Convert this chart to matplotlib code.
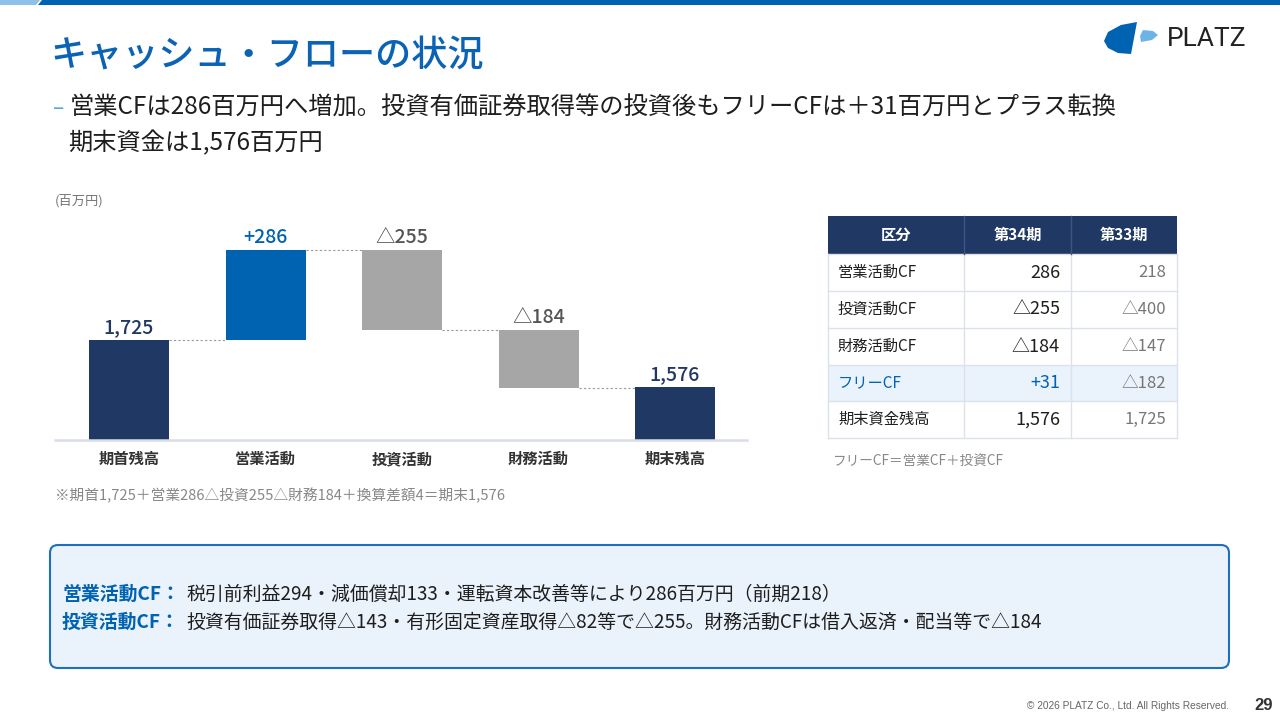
import numpy as np
import matplotlib
matplotlib.use('Agg')
import matplotlib.pyplot as plt
from matplotlib.patches import Rectangle, FancyBboxPatch, Polygon

plt.rcParams['font.family'] = ['Noto Sans CJK JP', 'DejaVu Sans']

# waterfall data (百万円)
steps = ['期首残高', '営業活動', '投資活動', '財務活動', '期末残高']
start_bal = 1725
flows = [286, -255, -184]
end_bal = 1576
bar_labels = ['1,725', '+286', '△255', '△184', '1,576']

# table data
tbl_head = ['区分', '第34期', '第33期']
tbl_rows = ['営業活動CF', '投資活動CF', '財務活動CF', 'フリーCF', '期末資金残高']
tbl_cur = ['286', '△255', '△184', '+31', '1,576']
tbl_prev = ['218', '△400', '△147', '△182', '1,725']

NAVY = '#1F3864'
BLUE = '#0063B2'
GRAY = '#A6A6A6'
TXT = '#1E1E1E'

fig = plt.figure(figsize=(12.8, 7.2), dpi=100)

# background layer in pixel coords
bg = fig.add_axes([0, 0, 1, 1])
bg.set_xlim(0, 1280)
bg.set_ylim(720, 0)
bg.axis('off')

# top strip
bg.add_patch(Polygon([(0, 0), (40, 0), (36, 5), (0, 5)], closed=True, fc='#8EC1EA', ec='none'))
bg.add_patch(Polygon([(42, 0), (1280, 0), (1280, 5), (38, 5)], closed=True, fc='#0063B2', ec='none'))

# title + subtitle
bg.text(50, 56, 'キャッシュ・フローの状況', fontsize=26, color='#0B63B5', va='center', ha='left', fontweight='medium')
bg.text(53, 108, '–', fontsize=15, color='#5BA3DC', va='center')
bg.text(70, 108, '営業CFは286百万円へ増加。投資有価証券取得等の投資後もフリーCFは＋31百万円とプラス転換',
        fontsize=17.5, color=TXT, va='center')
bg.text(68, 143, '期末資金は1,576百万円', fontsize=17.5, color=TXT, va='center')

# logo
bg.add_patch(Polygon([(1137, 22), (1131, 54), (1118, 53), (1108, 48), (1104, 41), (1108, 32), (1121, 25)],
                     closed=True, fc='#0063B2', ec='none'))
bg.add_patch(Polygon([(1143, 30), (1153, 31), (1158, 35), (1152, 40), (1141, 42), (1140, 36)],
                     closed=True, fc='#6CB4E8', ec='none'))
bg.text(1167, 39, 'PLATZ', fontsize=19, color='#222222', va='center', ha='left', family=['Roboto', 'DejaVu Sans'])

# unit label + footnote
bg.text(55, 201, '(百万円)', fontsize=9.5, color='#777777', va='center')
bg.text(55, 496, '※期首1,725＋営業286△投資255△財務184＋換算差額4＝期末1,576', fontsize=10.6, color='#888888', va='center')

# table
col_x = [828, 964, 1071, 1177]
row_y = [216, 254, 291, 328, 365, 401, 438]
bg.add_patch(Rectangle((col_x[0], row_y[0]), col_x[-1] - col_x[0], row_y[1] - row_y[0], fc=NAVY, ec='none'))
bg.add_patch(Rectangle((col_x[0], row_y[4]), col_x[-1] - col_x[0], row_y[5] - row_y[4], fc='#EAF2FB', ec='none'))
for y in row_y[1:]:
    bg.plot([col_x[0], col_x[-1]], [y, y], color='#DCE2EA', lw=1)
for x in col_x:
    bg.plot([x, x], [row_y[1], row_y[-1]], color='#DCE2EA', lw=1)
for x in col_x[1:-1]:
    bg.plot([x, x], [row_y[0], row_y[1]], color='#3C5683', lw=1)
hy = (row_y[0] + row_y[1]) / 2
for i, h in enumerate(tbl_head):
    bg.text((col_x[i] + col_x[i + 1]) / 2, hy, h, fontsize=11, color='white', fontweight='bold', ha='center', va='center')
for i, name in enumerate(tbl_rows):
    cy = (row_y[i + 1] + row_y[i + 2]) / 2
    free = name == 'フリーCF'
    bg.text(838, cy, name, fontsize=11, color=BLUE if free else TXT, ha='left', va='center')
    bg.text(1060, cy, tbl_cur[i], fontsize=13, color=BLUE if free else TXT, ha='right', va='center')
    bg.text(1166, cy, tbl_prev[i], fontsize=12, color='#777777', ha='right', va='center')
bg.text(832, 461, 'フリーCF＝営業CF＋投資CF', fontsize=9.8, color='#888888', va='center')

# comment box
bg.add_patch(FancyBboxPatch((50, 545), 1179, 123, boxstyle='round,pad=0,rounding_size=8',
                            fc='#EAF2FB', ec='#1F6FBF', lw=1.5))
box_lines = [('営業活動CF：', '税引前利益294・減価償却133・運転資本改善等により286百万円（前期218）'),
             ('投資活動CF：', '投資有価証券取得△143・有形固定資産取得△82等で△255。財務活動CFは借入返済・配当等で△184')]
for k, (lab, body) in enumerate(box_lines):
    y = 594 + 28 * k
    bg.text(62, y, lab, fontsize=13.6, color=BLUE, fontweight='bold', va='center')
    bg.text(186, y, body, fontsize=13.6, color=TXT, va='center')

# footer
bg.text(1229, 706, '© 2026 PLATZ Co., Ltd. All Rights Reserved.', fontsize=7.3, color='#666666',
        ha='right', va='center', family=['Liberation Sans', 'DejaVu Sans'])
bg.text(1254, 705, '29', fontsize=12, color='#333333', fontweight='bold', ha='left', va='center',
        family=['Liberation Sans', 'DejaVu Sans'])

# waterfall chart
ax = fig.add_axes([55 / 1280, 1 - 440 / 720, 692 / 1280, 225 / 720])
ax.patch.set_alpha(0)
base = 1407
x = np.arange(len(steps))
w = 0.586

bottoms, heights, colors, levels = [], [], [], []
bottoms.append(base); heights.append(start_bal - base); colors.append(NAVY)
run = start_bal
levels.append(run)
for f in flows:
    bottoms.append(min(run, run + f)); heights.append(abs(f))
    colors.append(BLUE if f > 0 else GRAY)
    run += f
    levels.append(run)
bottoms.append(base); heights.append(end_bal - base); colors.append(NAVY)

ax.bar(x, heights, w, bottom=bottoms, color=colors, zorder=2)

# dotted connectors
for i in range(len(levels)):
    ax.plot([x[i] + w / 2, x[i + 1] - w / 2], [levels[i], levels[i]], color='#999999', lw=0.8,
            linestyle=(0, (2, 2)), zorder=1)

lab_colors = [NAVY, BLUE, '#555555', '#555555', NAVY]
for i in range(len(steps)):
    top = bottoms[i] + heights[i]
    ax.annotate(bar_labels[i], (x[i], top), xytext=(0, 2), textcoords='offset points',
                ha='center', va='bottom', fontsize=14, color=lab_colors[i], fontweight='medium')

ax.set_xlim(-0.542, 4.527)
ax.set_ylim(base, 2121)
for s in ['top', 'right', 'left']:
    ax.spines[s].set_visible(False)
ax.spines['bottom'].set_color('#D9DEE6')
ax.spines['bottom'].set_linewidth(1.8)
ax.set_yticks([])
ax.set_xticks([])
# category names on a common baseline
for i, name in enumerate(steps):
    ax.text(x[i], -0.108, name, transform=ax.get_xaxis_transform(), ha='center', va='baseline',
            fontsize=11, color='#333333', fontweight='bold')

fig.savefig('out.png', dpi=100)
